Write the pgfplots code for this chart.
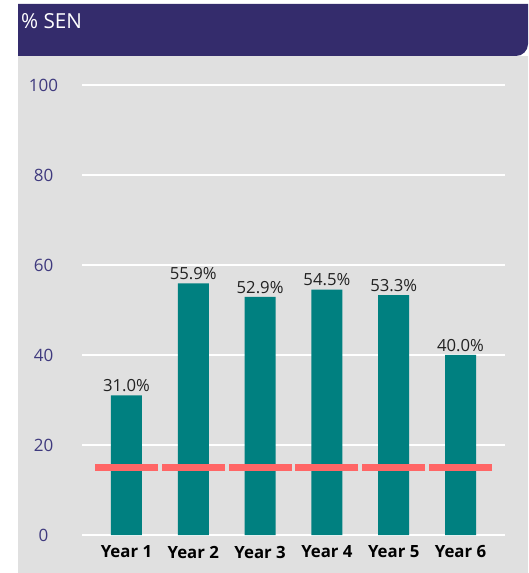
\documentclass[border=0pt]{standalone}
\usepackage{pgfplots}
\pgfplotsset{compat=1.18}
\usepackage{fontspec}
\setmainfont{Open Sans}
\definecolor{bg}{HTML}{E0E0E0}
\definecolor{hdr}{HTML}{342C6C}
\definecolor{teal}{HTML}{008080}
\definecolor{redl}{HTML}{FF6666}
\definecolor{tickc}{HTML}{3F3A7E}
\definecolor{lab}{HTML}{222222}
\begin{document}
\begin{tikzpicture}[x=1pt,y=1pt]
\useasboundingbox (0,0) rectangle (528,573);
\fill[bg] (18,0) rectangle (528,517);
\fill[hdr] (18,569) -- (528,569) -- (528,529) arc (0:-90:12) -- (18,517) -- cycle;
\node[anchor=west,text=white,font=\fontsize{20.7}{24}\selectfont,inner sep=0pt] at (21,551.5) {\% SEN};
\begin{axis}[
  at={(82pt,38pt)}, anchor=origin,
  scale only axis, width=423pt, height=450pt,
  xmin=0.334, xmax=6.666, ymin=0, ymax=100,
  axis line style={draw=none},
  major tick length=0pt,
  ytick={0,20,40,60,80,100},
  ymajorgrids, grid style={white, line width=2.7pt},
  xtick={1,2,3,4,5,6},
  xticklabels={Year 1,Year 2,Year 3,Year 4,Year 5,Year 6},
  xticklabel style={font=\bfseries\fontsize{16.8}{19}\selectfont, text=black, anchor=center, yshift=-17pt},
  yticklabel style={font=\fontsize{17}{20}\selectfont, text=tickc, anchor=center, xshift=-38.5pt},
  /pgf/number format/assume math mode=true,
  clip=false,
  axis on top=false,
]
\addplot[ybar, bar width=31pt, fill=teal, draw=none,
  nodes near coords={\pgfmathprintnumber[fixed,fixed zerofill,precision=1,assume math mode=true]{\pgfplotspointmeta}\%},
  every node near coord/.append style={font=\fontsize{16.7}{19}\selectfont, text=lab, anchor=south, yshift=0pt}]
  coordinates {(1,31.0) (2,55.9) (3,52.9) (4,54.5) (5,53.3) (6,40.0)};
\addplot[only marks, mark=-, mark size=31.5pt, mark options={draw=redl, line width=7pt}]
  coordinates {(1,15) (2,15) (3,15) (4,15) (5,15) (6,15)};
\end{axis}
\end{tikzpicture}
\end{document}
